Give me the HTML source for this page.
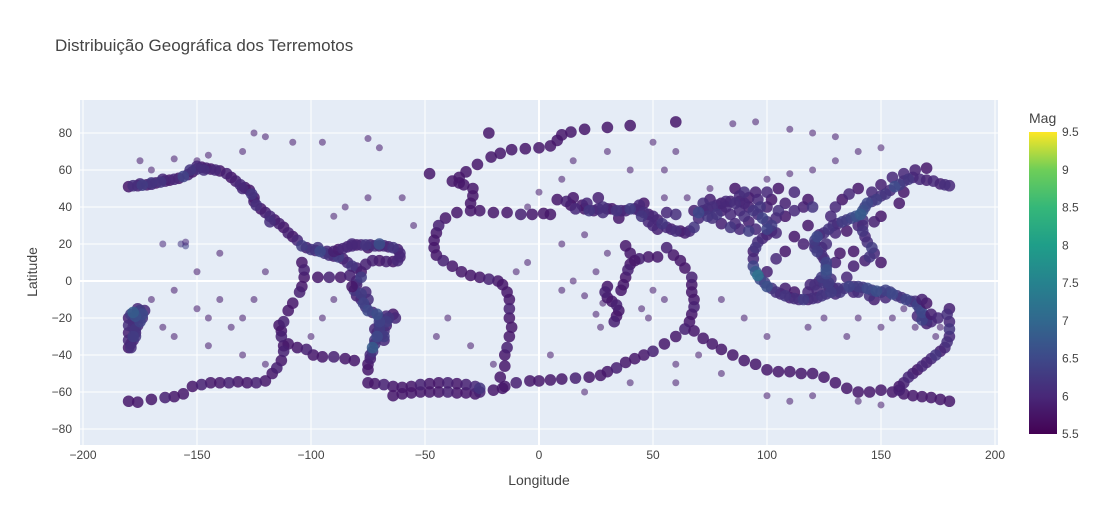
<!DOCTYPE html>
<html><head><meta charset="utf-8">
<style>
html,body{margin:0;padding:0;background:#fff;}
svg{display:block;font-family:"Liberation Sans",Arial,sans-serif;}
</style></head>
<body>
<svg id="chart" width="1099" height="525">
<text x="55" y="51" font-size="17" fill="#444">Distribuição Geográfica dos Terremotos</text>
<rect x="80" y="100" width="918" height="345" fill="#e5ecf6"/>
<g id="grid"></g>
<g id="marks"></g>
<g id="axes"></g>
<text x="539" y="485" font-size="14" fill="#444" text-anchor="middle">Longitude</text>
<text x="37" y="272" font-size="14" fill="#444" text-anchor="middle" transform="rotate(-90 37 272)">Latitude</text>
<defs><linearGradient id="vir" x1="0" y1="1" x2="0" y2="0">
<stop offset="0" stop-color="#440154"/><stop offset="0.125" stop-color="#482878"/><stop offset="0.25" stop-color="#3e4989"/><stop offset="0.375" stop-color="#31688e"/><stop offset="0.5" stop-color="#26828e"/><stop offset="0.625" stop-color="#1f9e89"/><stop offset="0.75" stop-color="#35b779"/><stop offset="0.875" stop-color="#6ece58"/><stop offset="1" stop-color="#fde725"/></linearGradient></defs>
<text x="1029" y="123" font-size="14" fill="#444">Mag</text>
<rect x="1029" y="132" width="28" height="302" fill="url(#vir)"/>
<g id="cbticks"></g>
</svg>
<script>
const xTicks = [-200,-150,-100,-50,0,50,100,150,200];
const yTicks = [-80,-60,-40,-20,0,20,40,60,80];
const cbTicks = [5.5,6,6.5,7,7.5,8,8.5,9,9.5];
const cbLabels = ["5.5","6","6.5","7","7.5","8","8.5","9","9.5"];
const pacificNorth = [[-180,51,5.8],[-178,51.5,6.1],[-176,51.5,5.9],[-174,51.8,6.3],[-172,52,5.8],[-170,52.3,6],[-168,53,5.8],[-166,53.5,6.2],[-164,54,5.9],[-162,54.5,5.8],[-160,55,6],[-158,55.5,5.8],[-156,56.5,6.4],[-154,57.5,5.9],[-152,59,5.8],[-150,60.5,6.1],[-148,61.5,5.8],[-146,61,5.9],[-144,60.5,5.8],[-142,60,6],[-140,59.5,5.8],[-137,58,5.9],[-135,56,5.8],[-133,54,5.9],[-131,52,6],[-129,50.5,5.8],[-127,49,5.8],[-126,47,6.2],[-125,45,5.8],[-125,43,5.9],[-124,41,6.1],[-122,39,5.8],[-120,37,5.9],[-118,35,6],[-116,33,5.8],[-114,31,5.9],[-112,29,5.8],[-110,26,5.9],[-108,24,5.8],[-106,22,6],[-104,19,6.3],[-102,18,5.9],[-100,17,6.2],[-98,16.5,6],[-96,16,6.5],[-94,15,6.2],[-92,14,6.1],[-90,13.5,5.9],[-88,13,6.3],[-86,12,5.9],[-84,10,6],[-82,8,6.2],[-80,7,5.9],[-78,5,5.8],[-78,2,6.3],[-80,0,6.1],[-80,-2,5.9],[-81,-5,6.2],[-80,-8,5.9],[-78,-10,6],[-77,-12,6.4],[-76,-14,6.1],[-75,-16,6.5],[-73,-17,6],[-71,-18,6.6],[-70,-20,6.2],[-70,-22,6.4],[-70,-24,6.1],[-70,-26,6.3],[-71,-28,6],[-71,-30,6.5],[-72,-32,6.2],[-72,-34,6.1],[-73,-36,6.8],[-73,-38,6.2],[-74,-40,6],[-74,-42,5.9],[-75,-45,5.8],[-75,-48,5.8],[-67,-19,6],[-67,-22,6.3],[-67,-24,5.9],[-68,-27,6.1],[-69,-29,5.9],[-68,-32,6],[-66,-20,6.2],[-64,-18,5.8],[-63,-20,6],[-76,-6,6],[-75,-10,6.1],[-78,-7,6.3],[-150,62,6],[-153,60,6.2],[-147,60,6.1],[-165,55,6],[-170,53,6.2],[-175,52.5,6],[-130,50,6],[-118,32,6.1],[-97,18,6.2],[-93,16,6],[-68,-30,6.3],[-72,-26,6]];
const caribbean = [[-90,16,5.9],[-88,17,5.8],[-86,17.5,6],[-84,18.5,5.9],[-82,19,6],[-80,19.5,5.8],[-78,19.5,6],[-76,19.5,6.2],[-74,19.5,5.9],[-72,19,6.1],[-70,19,5.8],[-68,19,6],[-66,18.5,5.9],[-64,18,6.2],[-62,17,5.9],[-61,15,6],[-61,13,5.9],[-62,11,6],[-64,10.5,5.8],[-67,10.5,5.9],[-70,11,5.8],[-73,11,5.9],[-76,9,5.9],[-82,20,6],[-70,20,6.6],[-75,18,5.8]];
const pacificSouth = [[-176,-15,6],[-175,-16,6.3],[-174,-18,6.5],[-174,-20,6.1],[-175,-22,6.4],[-176,-24,6],[-177,-26,6.2],[-177,-28,5.9],[-178,-30,6.3],[-178,-32,6],[-179,-34,5.9],[-179,-36,6.1],[-178,-17,6.8],[-177,-19,6.6],[-176,-20,6.2],[-178,-22,6],[-180,-20,5.9],[-180,-24,6.1],[-180,-28,5.9],[-180,-32,6],[-180,-36,5.8],[-173,-16,6],[-176,-17,6.4],[-178,-25,6.1],[-177,-30,6.2],[-179,-18,6.3],[-180,-65,5.8],[-176,-65.5,5.8],[-170,-64,5.8],[-164,-63,5.9],[-160,-62.5,5.8],[-156,-61,5.8],[-152,-57,5.8],[-148,-56,5.9],[-144,-55,5.8],[-140,-55,5.8],[-136,-55,5.9],[-132,-54.5,5.8],[-128,-55,5.8],[-124,-55,5.9],[-120,-54,5.8],[-117,-50,5.8],[-115,-47,5.9],[-113,-43,5.8],[-112,-38,5.9],[-112,-35,5.8],[-110,-34,5.8],[-106,-36,5.8],[-102,-37,5.9],[-99,-40,5.8],[-95,-41,5.8],[-90,-41,5.9],[-85,-42,5.8],[-81,-43,5.8],[-113,-30,5.9],[-113,-27,5.8],[-114,-24,5.8],[-112,-22,5.9],[-110,-16,5.8],[-108,-12,5.8],[-105,-6,5.9],[-104,-3,5.8],[-103,2,5.8],[-103,6,5.9],[-104,10,5.8],[-97,2,5.8],[-92,2,5.9],[-87,2,5.8],[-83,3,5.9],[-82,-3,5.8]];
const atlantic = [[-75,-55,5.8],[-72,-55.5,5.8],[-68,-56,5.9],[-64,-57,5.8],[-60,-57.5,5.8],[-56,-57,5.8],[-52,-56,5.9],[-48,-55.5,5.8],[-44,-55,5.8],[-40,-55,5.9],[-36,-55.5,5.8],[-32,-56,5.9],[-28,-57,6],[-26,-58,6.2],[-26,-60,5.9],[-28,-61,5.8],[-32,-60.5,5.8],[-36,-60.5,5.8],[-40,-60,5.9],[-44,-60,5.8],[-48,-60,5.8],[-52,-60,5.8],[-56,-60.5,5.8],[-60,-61,5.8],[-64,-62,5.8],[-20,-59,5.8],[-15,-57,5.8],[-10,-55,5.9],[-4,-54,5.8],[0,-54,5.8],[5,-53.5,5.8],[10,-53,5.8],[16,-52.5,5.9],[22,-52,5.8],[27,-51,5.8],[30,-49,5.8],[34,-47,5.9],[38,-44,5.8],[42,-42,5.8],[46,-40,5.8],[50,-38,5.9],[55,-34,5.8],[60,-30,5.8],[64,-26,5.9],[66,-22,5.8],[67,-18,5.8],[68,-14,5.9],[68,-10,5.8],[67,-6,5.8],[67,-2,5.8],[67,2,5.9],[64,7,5.8],[62,11,5.8],[59,14,5.8],[56,18,5.9],[52,13,5.8],[48,13,5.8],[44,12,5.9],[40,15,5.8],[38,19,5.8],[-16,-58,5.8],[-17,-52,5.8],[-15,-46,5.8],[-15,-40,5.8],[-14,-36,5.9],[-13,-30,5.8],[-12,-25,5.8],[-13,-20,5.8],[-13,-15,5.9],[-13,-10,5.8],[-14,-6,5.8],[-16,-2,5.8],[-18,0,5.8],[-22,1,5.9],[-26,2,5.8],[-30,3,5.8],[-34,5,5.8],[-38,8,5.8],[-42,11,5.9],[-45,14,5.8],[-46,18,5.8],[-46,22,5.8],[-45,26,5.8],[-44,30,5.9],[-41,34,5.8],[-36,37,5.8],[-30,38,5.8],[-26,38,5.8],[-20,37,5.8],[-14,37,5.8],[-8,36,5.9],[-3,36,5.8],[2,36.5,5.8],[5,36,5.8],[-30,42,5.8],[-29,46,5.8],[-29,50,5.8],[-33,52,5.8],[-35,53,5.8],[-38,54,5.8],[-35,56,5.8],[-32,59,5.8],[-27,63,5.8],[-21,67,5.8],[-17,69,5.8],[-12,71,5.8],[-6,71.5,5.8],[0,72,5.8],[5,73,5.8],[8,76,5.8],[10,79,5.8],[14,80.5,5.8],[20,82,5.8],[30,83,5.8],[40,84,5.8],[60,86,5.8],[-48,58,5.8],[-22,80,5.8]];
const eurasia = [[8,44,5.8],[12,43,5.9],[14,41,5.8],[16,39,6],[20,39,5.8],[22,38,6.2],[24,38,5.9],[26,39,6],[28,40,6.1],[30,39,5.9],[32,39,5.8],[34,38,6.2],[36,38,6],[38,38,5.9],[40,39,6.3],[42,39,6],[44,38,5.9],[46,37,6.1],[48,36,5.8],[50,35,6],[52,33,5.9],[54,31,6.2],[56,29,6],[58,28,5.9],[60,27,6.1],[62,27,5.8],[64,26,5.9],[66,27,6],[68,29,6.2],[70,34,6],[70,37,6.5],[72,38,6],[74,39,5.9],[76,40,6.1],[78,41,6],[80,42,5.8],[82,43,6],[84,43,5.9],[86,42,6.1],[88,43,5.8],[90,42,6],[92,40,5.9],[94,38,6.2],[96,36,6],[98,34,6.4],[100,32,6.1],[102,30,6.3],[102,27,6],[100,25,5.9],[98,23,6],[96,21,6.1],[95,18,6.2],[94,16,5.9],[76,34,6.1],[80,31,5.9],[84,29,6.2],[88,28,6],[92,27,6.3],[95,28,6],[74,35,6.2],[100,40,5.9],[105,38,6.1],[108,35,5.8],[104,34,6],[88,38,6],[80,38,5.9],[97,40,6.2],[102,44,5.8],[100,48,6],[105,50,5.8],[112,48,6],[118,44,5.8],[120,40,6.2],[116,40,5.9],[112,38,6],[95,48,5.9],[90,48,6.1],[86,50,5.8],[88,46,6],[72,42,6.1],[68,38,5.9],[56,37,6],[60,36,6.1],[48,32,6],[45,35,6.2],[52,28,5.9],[50,30,6],[28,37,6.1],[35,34,5.8],[44,41,6],[46,42,5.8],[21,42,6],[19,41,5.8],[15,45,5.8],[26,45,5.9],[100,28,6.4],[104,26,6],[84,36,6],[90,35,6.1],[92,32,5.9],[86,31,6],[78,36,6.2],[82,40,6],[108,42,5.9],[96,44,6],[92,45,5.8],[75,44,5.9]];
const asiaPacific = [[94,12,6],[94,8,6.4],[95,5,6.8],[96,3,7.2],[97,1,6.5],[99,-1,6.3],[100,-3,6.6],[102,-4,6.2],[104,-6,6.1],[106,-7,6],[108,-8,6.2],[110,-9,5.9],[112,-9.5,6.1],[114,-10,6],[116,-10,6.3],[118,-10,5.9],[120,-9.5,6.1],[122,-9,6],[124,-8,6.2],[126,-7,6.1],[128,-6,6.3],[129,-4,6],[127,-3,6.1],[125,-1,6.2],[123,0,6],[121,-2,6.1],[124,2,6.3],[126,4,6.5],[126,6,6.6],[126,8,6.2],[126,10,6.4],[125,12,6],[124,14,6.1],[122,16,6.3],[121,18,6.2],[121,20,6],[121,22,6.3],[122,24,6.5],[123,25,6],[125,26,6.1],[127,28,6.2],[129,30,6.1],[131,31,6],[133,32,6.3],[135,33,6.2],[137,34,6.4],[139,35,6.6],[141,36,6.8],[142,38,6.6],[143,40,6.3],[144,42,6.5],[146,43,6.2],[148,44,6.3],[150,46,6.1],[152,47,6.2],[154,49,6],[156,51,6.5],[158,52,6.3],[160,54,6.1],[162,55,6.2],[164,56,6],[167,55,6],[170,54.5,5.9],[173,54,6],[176,52.5,5.9],[178,52,6.1],[180,51.5,6],[142,33,6.1],[142,30,6],[142,27,6.2],[143,24,6],[144,21,6.1],[146,18,6.3],[147,15,6],[145,13,6.2],[143,11,5.9],[131,-4,6.1],[134,-4,6.2],[136,-3,6.4],[138,-3,6.1],[140,-3,6.3],[142,-3.5,6.2],[144,-4,6.5],[146,-5,6.3],[148,-5.5,6.6],[150,-6,6.2],[152,-5,6.4],[154,-6,6.3],[155,-7,6.5],[157,-8,6.2],[159,-9,6.1],[161,-10,6.4],[163,-11,6.2],[165,-11,6.1],[166,-13,6.4],[167,-15,6.3],[168,-17,6.5],[169,-19,6.1],[170,-21,6.2],[172,-22,6],[166,-19,6],[168,-21,6.4],[170,-23,5.9],[128,1,6.1],[127,-1,6.3],[122,-5,6],[118,-6,6],[119,-2,6],[132,-6,6.2],[130,-7,6],[112,-6,5.8],[108,-4,5.9],[100,5,5.9],[104,12,6],[108,16,5.8],[116,20,5.9],[112,24,5.8],[118,30,5.8],[128,35,6],[130,40,6],[133,44,5.8],[136,47,6],[140,50,5.8],[146,48,6],[150,52,5.9],[155,56,6],[160,58,6],[165,60,5.9],[170,61,5.8],[150,10,5.8],[138,8,5.9],[135,2,6],[130,10,5.9],[132,15,5.8],[138,16,5.8],[124,18,6],[126,20,6.1],[130,26,6],[135,27,5.8],[140,30,6],[147,32,5.9],[150,35,5.8],[158,42,5.8],[160,48,5.8],[145,-8,6.1],[147,-10,5.9],[152,-9,6],[140,-6,6.1],[138,-6,6]];
const southPacific = [[180,-15,5.9],[179,-18,6.1],[180,-22,6],[180,-26,6.2],[180,-30,6],[179,-33,6.1],[178,-36,6],[176,-38,5.9],[174,-40,6.2],[172,-42,6],[170,-44,5.9],[168,-46,6],[166,-48,5.8],[164,-50,5.9],[162,-52,6],[160,-55,5.9],[158,-57,5.8],[158,-59,5.9],[160,-61,5.8],[164,-62,5.8],[168,-62.5,5.8],[172,-63,5.8],[176,-64,5.8],[180,-65,5.8],[155,-60,5.8],[150,-59,5.8],[145,-60,5.8],[140,-60,5.8],[135,-58,5.8],[130,-55,5.8],[125,-52,5.8],[120,-50,5.8],[115,-50,5.8],[110,-49,5.8],[105,-49,5.8],[100,-48,5.8],[95,-45,5.8],[90,-43,5.8],[85,-40,5.8],[80,-37,5.8],[76,-34,5.8],[72,-31,5.8],[68,-27,5.8],[175,-20,6],[172,-18,5.9],[170,-12,5.8],[168,-10,5.9]];
const africa = [[30,-3,5.8],[29,-6,5.9],[30,-9,5.8],[32,-11,5.8],[34,-13,5.9],[35,-16,5.8],[34,-19,5.8],[33,-22,5.9],[36,-5,5.8],[37,-2,5.8],[38,2,5.8],[39,6,5.9],[40,9,5.8],[42,11,5.8]];
const scattered = [[-165,20,6],[-157,20,6.2],[-155,19,6.4],[-155,21,6],[-145,-20,5.8],[-150,-15,5.8],[-140,-10,5.8],[-135,-25,5.8],[-130,-20,5.8],[-125,-10,5.8],[-120,5,5.8],[-140,15,5.8],[-150,5,5.8],[-160,-5,5.8],[-170,-10,5.8],[-165,-25,5.8],[-160,-30,5.8],[-145,-35,5.8],[-130,-40,5.8],[-120,-45,5.8],[-100,-30,5.8],[-95,-20,5.8],[-90,-10,5.8],[-130,70,5.8],[-120,78,5.8],[-108,75,5.8],[-95,75,5.8],[-75,77,5.8],[-70,72,5.8],[-85,40,5.8],[-90,35,5.8],[-75,45,5.8],[-60,45,5.8],[-55,30,5.8],[-125,80,5.8],[-145,68,5.8],[-150,65,5.8],[-160,66,5.8],[-170,60,5.8],[-175,65,5.8],[-40,-20,5.8],[-45,-30,5.8],[-30,-35,5.8],[-20,-45,5.8],[5,-40,5.8],[20,-60,5.8],[40,-55,5.8],[60,-45,5.8],[60,-55,5.8],[80,-50,5.8],[90,-20,5.8],[80,-10,5.8],[70,-40,5.8],[100,-30,5.8],[100,-62,5.8],[110,-65,5.8],[120,-62,5.8],[140,-65,5.8],[150,-67,5.8],[85,85,5.8],[95,86,5.8],[110,82,5.8],[120,80,5.8],[130,78,5.8],[140,70,5.8],[150,72,5.8],[130,65,5.8],[120,60,5.8],[110,58,5.8],[100,55,5.8],[40,60,5.8],[55,60,5.8],[60,70,5.8],[50,75,5.8],[30,70,5.8],[15,65,5.8],[-5,40,5.8],[0,48,5.8],[10,55,5.8],[65,45,5.8],[75,50,5.8],[55,45,5.8],[176,-25,5.8],[174,-30,5.8],[165,-25,5.8],[160,-15,5.8],[155,-20,5.8],[150,-25,5.8],[140,-20,5.8],[135,-30,5.8],[125,-20,5.8],[118,-25,5.8],[25,-18,5.8],[27,-25,5.8],[28,-12,5.8],[20,-8,5.8],[15,0,5.8],[25,5,5.8],[30,15,5.8],[20,25,5.8],[10,20,5.8],[45,-15,5.8],[48,-20,5.8],[50,-5,5.8],[55,-10,5.8],[10,-5,5.8],[-5,10,5.8],[-10,5,5.8]];
const belts = [pacificNorth, caribbean, pacificSouth, atlantic, eurasia, asiaPacific, southPacific, africa];

const NS='http://www.w3.org/2000/svg';
const X0=80,X1=998,Y0=100,Y1=445;
function xs(v){return 539+v*2.28;}
function ys(v){return 281-v*1.85;}
function cs(v){return 434-(v-5.5)/4*302;}
const stops=[[68,1,84],[72,40,120],[62,73,137],[49,104,142],[38,130,142],[31,158,137],[53,183,121],[110,206,88],[253,231,37]];
function color(m){let t=Math.max(0,Math.min(1,(m-5.5)/4))*8;let i=Math.min(7,Math.floor(t)),f=t-i;const a=stops[i],b=stops[i+1];return `rgb(${a.map((c,k)=>Math.round(c+(b[k]-c)*f)).join(',')})`;}
function mk(tag,attrs,parent){const e=document.createElementNS(NS,tag);for(const k in attrs)e.setAttribute(k,attrs[k]);parent.appendChild(e);return e;}
const grid=document.getElementById('grid'),axes=document.getElementById('axes'),marks=document.getElementById('marks'),cb=document.getElementById('cbticks');
xTicks.forEach(t=>{const x=xs(t);
 const l=mk('line',{x1:x,x2:x,y1:Y0,y2:Y1,stroke:'#fff','stroke-width':t===0?2:1},grid);
 
 
 const tx=mk('text',{x:x,y:459,'font-size':12,fill:'#444','text-anchor':'middle'},axes);tx.textContent=t<0?'\u2212'+(-t):t;
 
 });
yTicks.forEach(t=>{const y=ys(t);
 const l=mk('line',{x1:X0,x2:X1,y1:y,y2:y,stroke:'#fff','stroke-width':t===0?2:1},grid);
 
 
 const tx=mk('text',{x:72,y:y+4,'font-size':12,fill:'#444','text-anchor':'end'},axes);tx.textContent=t<0?'\u2212'+(-t):t;
 
 });
cbTicks.forEach((t,i)=>{const tx=mk('text',{x:1062,y:cs(t)+4,'font-size':12,fill:'#444'},cb);tx.textContent=cbLabels[i];
 
 });
scattered.forEach(q=>{
 const c=mk('circle',{cx:xs(q[0]),cy:ys(q[1]),r:3.5,fill:color(q[2]),'fill-opacity':0.55},marks);
 
 });
belts.forEach(g=>g.slice().sort((a,b)=>a[2]-b[2]).forEach(q=>{
 const c=mk('circle',{cx:xs(q[0]),cy:ys(q[1]),r:5.8,fill:color(q[2]),'fill-opacity':0.85},marks);
 
 }));
</script>
</body></html>
